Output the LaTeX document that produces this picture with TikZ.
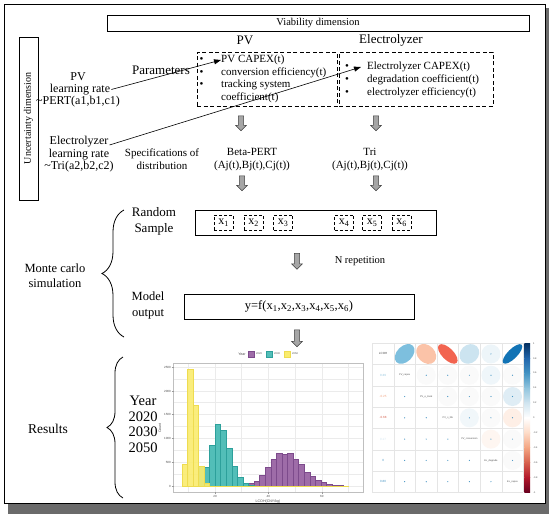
\documentclass[tikz,border=0pt]{standalone}
\usepackage{fontspec}
\setmainfont{Liberation Serif}
\newfontfamily\plotfont{Liberation Sans}
\usetikzlibrary{arrows.meta,shapes.arrows,decorations.pathreplacing,calc}
\definecolor{pfill}{RGB}{158,108,168}
\definecolor{pline}{RGB}{125,75,140}
\definecolor{tfill}{RGB}{82,190,184}
\definecolor{tline}{RGB}{45,160,155}
\definecolor{yfill}{RGB}{250,236,110}
\definecolor{yline}{RGB}{238,220,80}
\definecolor{c0}{HTML}{67001F}
\definecolor{c1}{HTML}{B2182B}
\definecolor{c2}{HTML}{D6604D}
\definecolor{c3}{HTML}{F4A582}
\definecolor{c4}{HTML}{FDDBC7}
\definecolor{c5}{HTML}{FFFFFF}
\definecolor{c6}{HTML}{D1E5F0}
\definecolor{c7}{HTML}{92C5DE}
\definecolor{c8}{HTML}{4393C3}
\definecolor{c9}{HTML}{2166AC}
\definecolor{c10}{HTML}{053061}
\definecolor{elA}{HTML}{7DBFDE}
\definecolor{elB}{HTML}{FBC3A8}
\definecolor{elC}{HTML}{F26450}
\definecolor{elD}{HTML}{CCE4F0}
\definecolor{elE}{HTML}{1273B5}
\definecolor{gridc}{HTML}{EBEBEB}
\begin{document}
\begin{tikzpicture}[x=1pt,y=-1pt,
  lbig/.style={font=\fontsize{13}{16}\selectfont, inner sep=1pt, align=center},
  lmid/.style={font=\fontsize{12}{13}\selectfont, inner sep=1pt, align=center},
  lsml/.style={font=\fontsize{11}{13}\selectfont, inner sep=1pt, align=center},
  lbul/.style={font=\fontsize{11}{13}\selectfont, inner sep=0pt, anchor=west},
  solidbox/.style={draw, line width=0.7pt, inner sep=0pt},
  dashbox/.style={draw, line width=0.7pt, dash pattern=on 4pt off 2.5pt, inner sep=0pt},
  xbox/.style={draw, line width=0.6pt, dash pattern=on 3pt off 2pt, minimum width=19pt, minimum height=15pt, inner sep=0pt, font=\fontsize{12}{13}\selectfont},
  garrow/.style={single arrow, draw=black!75, fill=black!35, line width=0.5pt, shape border rotate=270, inner sep=2.3pt, single arrow head extend=2.8pt, minimum height=15pt, single arrow tip angle=90},
  larrow/.style={-{Triangle[length=7pt,width=5pt]}, line width=0.6pt},
  mybrace/.style={decorate, line width=0.8pt},
  tiny/.style={font=\plotfont\fontsize{3}{3.5}\selectfont, inner sep=0pt, text=black!70}
]
\useasboundingbox (0,0) rectangle (550,515);
% frame with shadow
\fill[black!58] (8,8) rectangle (549,514);
\filldraw[fill=white, draw=black, line width=0.8pt] (4,4) rectangle (545,503);

% top boxes
\node[solidbox, minimum width=422pt, minimum height=16pt, font=\fontsize{10.5}{12}\selectfont] (via) at (318,23) {Viability dimension};
\node[solidbox, minimum width=19pt, minimum height=163pt] (unc) at (28.5,118.5) {};
\node[rotate=90, font=\fontsize{10}{12}\selectfont, inner sep=0pt] (unct) at (unc.center) {Uncertainty dimension};

% headers
\node[lbig] (pvh) at (245,40) {PV};
\node[lbig] (elh) at (391,40) {Electrolyzer};
\node[dashbox, minimum width=140pt, minimum height=54pt] (pvbox) at (267,79) {};
\node[dashbox, minimum width=154pt, minimum height=54pt] (elbox) at (416,79) {};

% PV bullets
\node[lbul] (pb1) at (199.5,60) {\textbullet};
\node[lbul] (pb2) at (199.5,73) {\textbullet};
\node[lbul] (pb3) at (199.5,85) {\textbullet};
\node[lbul] (pv1) at (221,60) {PV CAPEX(t)};
\node[lbul] (pv2) at (221,73) {conversion efficiency(t)};
\node[lbul] (pv3) at (221,85) {tracking system};
\node[lbul] (pv4) at (221,98) {coefficient(t)};
% Electrolyzer bullets
\node[lbul] (eb1) at (345,67) {\textbullet};
\node[lbul] (eb2) at (345,80) {\textbullet};
\node[lbul] (eb3) at (345,93) {\textbullet};
\node[lbul] (ec1) at (367,67) {Electrolyzer CAPEX(t)};
\node[lbul] (ec2) at (367,80) {degradation coefficient(t)};
\node[lbul] (ec3) at (367,93) {electrolyzer efficiency(t)};

\node[lbig] (par) at (161,70) {Parameters};

% learning rates
\node[lmid] (pl1) at (78,77) {PV};
\node[lmid] (pl2) at (80,89.5) {learning rate};
\node[lmid] (pl3) at (78,102) {\textasciitilde PERT(a1,b1,c1)};
\node[lmid] (el1) at (79,142) {Electrolyzer};
\node[lmid] (el2) at (79,155) {learning rate};
\node[lmid] (el3) at (79,167) {\textasciitilde Tri(a2,b2,c2)};
\draw[larrow] (pl2.east) -- (pv1.west);
\draw[larrow] ($(el1.east)+(0,3)$) -- ($(ec1.west)+(-6,0)$);

% distributions
\node[lsml] (spec) at (162,159.5) {Specifications of\\distribution};
\node[lsml] (beta) at (252,159.5) {Beta-PERT\\(Aj(t),Bj(t),Cj(t))};
\node[lsml] (tri) at (370,159.5) {Tri\\(Aj(t),Bj(t),Cj(t))};
\node[garrow] (ga1) at (241,122) {};
\node[garrow] (ga2) at (376,122) {};
\node[garrow] (ga3) at (242,182) {};
\node[garrow] (ga4) at (376,182) {};

% random sample
\node[lbig] (rs) at (154,221) {Random\\Sample};
\node[solidbox, minimum width=241pt, minimum height=25pt] (rsbox) at (315.5,222.5) {};
\node[xbox] (x1) at (223.5,222.5) {x\textsubscript{1}};
\node[xbox] (x2) at (253.5,222.5) {x\textsubscript{2}};
\node[xbox] (x3) at (283,222.5) {x\textsubscript{3}};
\node[xbox] (x4) at (344,222.5) {x\textsubscript{4}};
\node[xbox] (x5) at (372,222.5) {x\textsubscript{5}};
\node[xbox] (x6) at (401.5,222.5) {x\textsubscript{6}};

\node[garrow, minimum height=16pt] (ga5) at (297,260) {};
\node[font=\fontsize{10.5}{12}\selectfont, inner sep=0pt] (nrep) at (360,261) {N repetition};

\node[font=\fontsize{12.5}{15}\selectfont, inner sep=1pt, align=center] (mc) at (55,275.5) {Monte carlo\\simulation};
\node[font=\fontsize{12.5}{16}\selectfont, inner sep=1pt, align=center] (mo) at (148,305) {Model\\output};
\node[solidbox, minimum width=230pt, minimum height=25pt, font=\fontsize{12.5}{14}\selectfont] (mobox) at (299,306.5) {y=f(x\textsubscript{1},x\textsubscript{2},x\textsubscript{3},x\textsubscript{4},x\textsubscript{5},x\textsubscript{6})};
\node[garrow, minimum height=17pt] (ga6) at (297,337) {};

% braces
\draw[mybrace, decoration={brace, amplitude=22pt}] (124,337) -- (124,210);
\draw[mybrace, decoration={brace, amplitude=16pt}] (123,498) -- (123,357);

\node[font=\fontsize{13.5}{16}\selectfont, inner sep=1pt] (res) at (48,429) {Results};
\node[font=\fontsize{14.5}{15.6}\selectfont, inner sep=1pt, align=center] (yr) at (143,424.5) {Year\\2020\\2030\\2050};

% ---------------- histogram ----------------
\begin{scope}
\fill[white] (173.5,363) rectangle (363,492);
\foreach \gx in {188,215,241.5,268.4,295,321.8,348.5}
  \draw[gridc, line width=0.3pt] (\gx,363) -- (\gx,492);
\foreach \gy in {367,379,391,402.6,414.5,426.4,438.3,450,462,474,486}
  \draw[gridc, line width=0.3pt] (173.5,\gy) -- (363,\gy);
\foreach \k/\c in {11/10,12/50,13/100,14/230,15/390,16/560,17/690,18/670,19/690,20/560,21/450,22/300,23/200,24/120,25/70,26/40,27/20,28/8}
  \filldraw[fill=pfill, draw=pline, line width=0.4pt] ({181.7+5.57*\k},486) rectangle ({181.7+5.57*(\k+1)},{486-0.0476*\c});
\foreach \k/\c in {3/420,4/385,5/855,6/1300,7/1180,8/800,9/410,10/180,11/65,12/20}
  \filldraw[fill=tfill, draw=tline, line width=0.4pt] ({181.7+5.57*\k},486) rectangle ({181.7+5.57*(\k+1)},{486-0.0476*\c});
\foreach \k/\c in {0/455,1/2450,2/1700,3/410,4/60}
  \filldraw[fill=yfill, draw=yline, line width=0.4pt, fill opacity=0.9] ({181.7+5.57*\k},486) rectangle ({181.7+5.57*(\k+1)},{486-0.0476*\c});
\draw[yline, line width=0.5pt] (209.5,486) -- (349,486);
\draw[black!25, line width=0.4pt] (173.5,363) rectangle (363,492);
\foreach \gx/\lab in {215/20,268.4/40,321.8/60}{
  \draw[black!40, line width=0.3pt] (\gx,492) -- (\gx,494);
  \node[tiny] at (\gx,496.5) {\lab};}
\foreach \gy/\lab in {367/2500,391/2000,414.5/1500,438.3/1000,462/500,486/0}{
  \draw[black!40, line width=0.3pt] (171.5,\gy) -- (173.5,\gy);
  \node[tiny, anchor=east] at (171,\gy) {\lab};}
\node[tiny, font=\plotfont\fontsize{3.6}{4}\selectfont] (xlab) at (268,502) {LCOH(CNY/kg)};
\node[tiny, font=\plotfont\fontsize{3.6}{4}\selectfont, rotate=90] (ylab) at (160,428) {Count};
\node[tiny, font=\plotfont\fontsize{3.6}{4}\selectfont] (leg) at (242,354) {Year};
\filldraw[fill=pfill, draw=pline, line width=0.3pt] (248,351) rectangle (254,357);
\node[tiny, anchor=west, font=\plotfont\fontsize{2.6}{3}\selectfont] at (256,354) {2020};
\filldraw[fill=tfill, draw=tline, line width=0.3pt] (266,351) rectangle (272,357);
\node[tiny, anchor=west, font=\plotfont\fontsize{2.6}{3}\selectfont] at (274,354) {2030};
\filldraw[fill=yfill, draw=yline, line width=0.3pt] (284,351) rectangle (290,357);
\node[tiny, anchor=west, font=\plotfont\fontsize{2.6}{3}\selectfont] at (292,354) {2050};
\end{scope}

% ---------------- correlation plot ----------------
\def\cx{372.3}\def\cy{343.3}\def\cw{21.57}\def\ch{21.29}
% faint circles upper
\foreach \i/\j/\col in {2/3/black!2,2/4/black!2,2/5/black!2,2/6/c6!35,2/7/black!2,3/4/black!2,3/5/black!2,3/6/black!2,3/7/c6!70,4/5/c6!30,4/6/black!2,4/7/c4!45,5/6/c4!25,5/7/black!2,6/7/black!2}
  \fill[\col] ({\cx+(\j-0.5)*\cw},{\cy+(\i-0.5)*\ch}) circle (9.5pt);
\foreach \k in {0,...,7}{
  \draw[black!10, line width=0.4pt] ({\cx+\k*\cw},\cy) -- ({\cx+\k*\cw},{\cy+7*\ch});
  \draw[black!10, line width=0.4pt] (\cx,{\cy+\k*\ch}) -- ({\cx+7*\cw},{\cy+\k*\ch});}
% ellipses row 1
\fill[elA, rotate around={45:({\cx+1.5*\cw},{\cy+0.5*\ch})}] ({\cx+1.5*\cw},{\cy+0.5*\ch}) ellipse (11.6pt and 7.8pt);
\fill[elB, rotate around={-45:({\cx+2.5*\cw},{\cy+0.5*\ch})}] ({\cx+2.5*\cw},{\cy+0.5*\ch}) ellipse (11.2pt and 8.6pt);
\fill[elC, rotate around={-45:({\cx+3.5*\cw},{\cy+0.5*\ch})}] ({\cx+3.5*\cw},{\cy+0.5*\ch}) ellipse (12.6pt and 5.8pt);
\fill[elD, rotate around={45:({\cx+4.5*\cw},{\cy+0.5*\ch})}] ({\cx+4.5*\cw},{\cy+0.5*\ch}) ellipse (10.6pt and 9pt);
\fill[c6!40] ({\cx+5.5*\cw},{\cy+0.5*\ch}) circle (9.5pt);
\fill[elE, rotate around={45:({\cx+6.5*\cw},{\cy+0.5*\ch})}] ({\cx+6.5*\cw},{\cy+0.5*\ch}) ellipse (13pt and 4.8pt);
% dots in other cells
\foreach \i in {2,...,7}{\foreach \j in {2,...,7}{
  \ifnum\i=\j\relax\else
    \fill[c8] ({\cx+(\j-0.5)*\cw},{\cy+(\i-0.5)*\ch}) circle (0.6pt);
  \fi}}
\fill[c8] ({\cx+5.5*\cw},{\cy+0.5*\ch}) circle (0.6pt);
% labels
\node[tiny] (lcoh) at ({\cx+0.5*\cw},{\cy+0.5*\ch}) {LCOH};
\node[tiny, text=c7] at ({\cx+0.5*\cw},{\cy+1.5*\ch}) {0.39};
\node[tiny, text=c3] at ({\cx+0.5*\cw},{\cy+2.5*\ch}) {-0.25};
\node[tiny, text=c2] at ({\cx+0.5*\cw},{\cy+3.5*\ch}) {-0.68};
\node[tiny, text=c6] at ({\cx+0.5*\cw},{\cy+4.5*\ch}) {0.17};
\node[tiny, text=c8] at ({\cx+0.5*\cw},{\cy+5.5*\ch}) {0};
\node[tiny, text=c8] at ({\cx+0.5*\cw},{\cy+6.5*\ch}) {0.80};
\node[tiny, font=\plotfont\fontsize{2.4}{3}\selectfont] at ({\cx+1.5*\cw},{\cy+1.5*\ch}) {PV\_capex};
\node[tiny, font=\plotfont\fontsize{2.4}{3}\selectfont] at ({\cx+2.5*\cw},{\cy+2.5*\ch}) {PV\_e\_track};
\node[tiny, font=\plotfont\fontsize{2.4}{3}\selectfont] at ({\cx+3.5*\cw},{\cy+3.5*\ch}) {PV\_s\_life};
\node[tiny, font=\plotfont\fontsize{2.4}{3}\selectfont] at ({\cx+4.5*\cw},{\cy+4.5*\ch}) {PV\_conversion};
\node[tiny, font=\plotfont\fontsize{2.4}{3}\selectfont] at ({\cx+5.5*\cw},{\cy+5.5*\ch}) {EL\_degrade};
\node[tiny, font=\plotfont\fontsize{2.4}{3}\selectfont] at ({\cx+6.5*\cw},{\cy+6.5*\ch}) {EL\_capex};
% colour bar
\foreach \n in {0,...,9}{
  \pgfmathtruncatemacro\ca{10-\n}
  \pgfmathtruncatemacro\cb{9-\n}
  \shade[top color=c\ca, bottom color=c\cb] (524.3,{343.3+\n*14.9}) rectangle (530,{343.3+(\n+1)*14.9+0.3});}
\foreach \v [count=\n from 0] in {1,0.8,0.6,0.4,0.2,0,-0.2,-0.4,-0.6,-0.8,-1}
  \node[tiny, anchor=west, font=\plotfont\fontsize{2.4}{3}\selectfont] at (533,{343.3+\n*14.9}) {\v};
\end{tikzpicture}
\end{document}
